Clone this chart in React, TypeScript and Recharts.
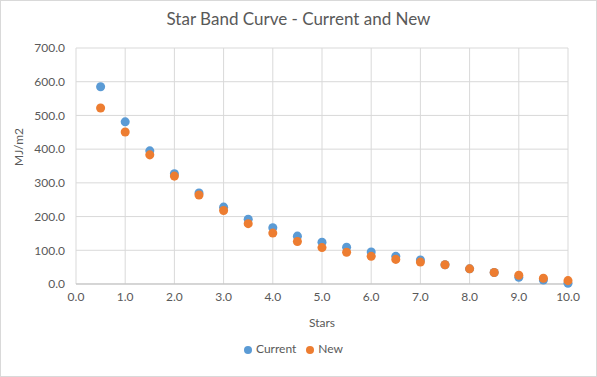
import { ScatterChart, Scatter, XAxis, YAxis, ZAxis, CartesianGrid, Legend } from 'recharts';

const stars = [0.5, 1.0, 1.5, 2.0, 2.5, 3.0, 3.5, 4.0, 4.5, 5.0, 5.5, 6.0, 6.5, 7.0, 7.5, 8.0, 8.5, 9.0, 9.5, 10.0];
const currentValues = [585, 481, 395, 327, 270, 228, 192, 167, 142, 124, 109, 95, 82, 71, 57, 45, 34, 20, 12, 2];
const newValues = [522, 451, 383, 320, 264, 218, 179, 151, 126, 108, 94, 82, 73, 65, 57, 45, 34, 26, 17, 10];
const xTicks = [0, 1, 2, 3, 4, 5, 6, 7, 8, 9, 10];
const yTicks = [0, 100, 200, 300, 400, 500, 600, 700];

const currentData = stars.map((s, i) => ({ x: s, y: currentValues[i] }));
const newData = stars.map((s, i) => ({ x: s, y: newValues[i] }));

const FONT = 'Lato, "Open Sans", sans-serif';
const TEXT = '#595959';

export default function App() {
  return (
    <div
      style={{
        position: 'fixed',
        left: 0,
        top: 0,
        width: 595,
        height: 375,
        border: '1px solid #D9D9D9',
        background: '#fff',
        fontFamily: FONT,
      }}
    >
      <div
        style={{
          position: 'absolute',
          top: 7,
          width: '100%',
          textAlign: 'center',
          fontSize: 17,
          color: TEXT,
        }}
      >
        Star Band Curve - Current and New
      </div>
      <ScatterChart width={595} height={375} margin={{ top: 47, right: 28, left: 0, bottom: 40 }}>
        <CartesianGrid stroke="#D9D9D9" vertical horizontal />
        <XAxis
          type="number"
          dataKey="x"
          domain={[0, 10]}
          ticks={xTicks}
          interval={0}
          tickFormatter={(v: number) => v.toFixed(1)}
          tick={{ fill: TEXT, fontSize: 12, fontFamily: FONT }}
          tickLine={false}
          axisLine={{ stroke: '#BFBFBF' }}
          height={52}
          label={{ value: 'Stars', position: 'insideBottom', offset: 9, fill: TEXT, fontSize: 12, fontFamily: FONT }}
        />
        <YAxis
          type="number"
          dataKey="y"
          domain={[0, 700]}
          ticks={yTicks}
          interval={0}
          tickFormatter={(v: number) => v.toFixed(1)}
          tick={{ fill: TEXT, fontSize: 12, fontFamily: FONT, dx: -3 }}
          tickLine={false}
          axisLine={false}
          width={75}
          label={{ value: 'MJ/m2', angle: -90, position: 'insideLeft', offset: 18, fill: TEXT, fontSize: 12, fontFamily: FONT }}
        />
        <ZAxis range={[45, 45]} />
        <Legend
          layout="horizontal"
          verticalAlign="middle"
          align="center"
          iconType="circle"
          iconSize={8}
          wrapperStyle={{ top: 340, left: 0, width: 595, fontSize: 12, fontFamily: FONT, color: TEXT }}
          formatter={(value: string) => <span style={{ color: TEXT }}>{value}</span>}
        />
        <Scatter name="Current" data={currentData} fill="#5B9BD5" isAnimationActive={false} />
        <Scatter name="New" data={newData} fill="#ED7D31" isAnimationActive={false} />
      </ScatterChart>
    </div>
  );
}
